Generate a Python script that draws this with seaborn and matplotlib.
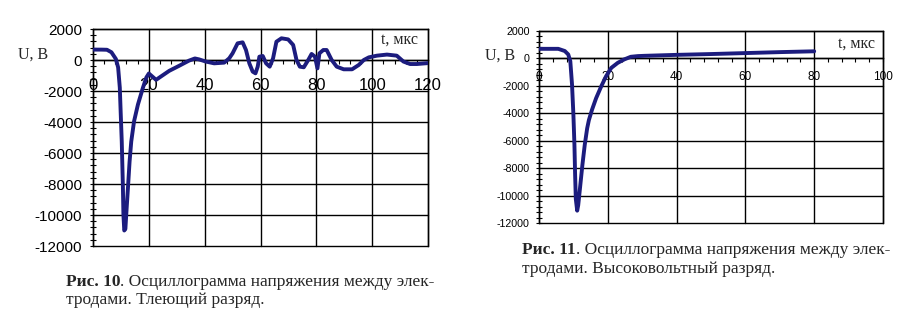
import matplotlib
matplotlib.use("Agg")
import matplotlib.pyplot as plt
import numpy as np
import pandas as pd
import seaborn as sns
from matplotlib.ticker import MultipleLocator, FixedLocator, FixedFormatter

# ---------------- data ----------------
t_glow = [0, 3, 5, 6.6, 8.2, 9.0, 9.6, 9.9, 10.3, 10.7, 10.9, 11.2, 11.6, 11.9,
          12.5, 13.1, 13.7, 14.7, 16.1, 17.9, 19.1, 20.0, 21.4, 22.6, 23.8,
          27.3, 30.9, 34.4, 36.5, 38.0, 40.4, 43.4, 47.0, 48.8, 50.0, 51.8,
          53.6, 54.8, 56.0, 57.2, 58.2, 59.0, 59.6, 60.8, 62.0, 63.3, 64.5,
          65.7, 67.5, 69.9, 71.7, 72.9, 74.1, 75.5, 77.1, 78.3, 79.5, 80.4,
          81.1, 82.5, 83.7, 85.5, 87.3, 89.8, 92.8, 95.2, 97.0, 98.8, 101.7,
          105.3, 108.8, 111.2, 113.6, 116, 120]
u_glow = [670, 670, 660, 500, 65, -480, -1780, -3300, -5260, -8100, -10000,
          -11000, -10900, -10000, -8300, -6560, -5260, -3960, -2870, -1780,
          -1130, -870, -1090, -1280, -1130, -700, -370, -40, 100, 40, -100,
          -215, -170, 110, 430, 1075, 1140, 645, -215, -750, -860, -430, 215,
          260, -215, -430, 110, 1180, 1400, 1330, 970, 0, -430, -470, 0, 390,
          215, -540, 430, 645, 645, 0, -430, -600, -600, -320, 0, 170, 280,
          350, 280, -100, -260, -260, -200]

t_hv = [0, 5.6, 7.5, 8.5, 9.1, 9.6, 10.0, 10.3, 10.5, 10.7, 11.1, 11.4, 11.9,
        12.6, 13.3, 14.0, 14.5, 15.4, 16.6, 18.1, 19.5, 21.0, 22.9, 24.8,
        26.7, 28.7, 30.6, 40, 50, 60, 70, 80]
u_hv = [700, 700, 540, 290, -200, -1900, -4100, -6300, -8500, -10250, -11100,
        -10700, -9500, -7800, -6300, -5100, -4500, -3750, -2900, -2030, -1300,
        -690, -320, -70, 120, 170, 190, 260, 320, 390, 460, 520]

x_ticks_glow = [0, 20, 40, 60, 80, 100, 120]
x_ticks_hv = [0, 20, 40, 60, 80, 100]
y_ticks = [2000, 0, -2000, -4000, -6000, -8000, -10000, -12000]

y_label = "U, B"
x_label = "t, мкс"
cap10_bold = "Рис. 10"
cap10_rest = ". Осциллограмма напряжения между элек-"
cap10_line2 = "тродами. Тлеющий разряд."
cap11_bold = "Рис. 11"
cap11_rest = ". Осциллограмма напряжения между элек-"
cap11_line2 = "тродами. Высоковольтный разряд."

# ---------------- style ----------------
sns.set_style("white")
plt.rcParams['font.family'] = ['Liberation Sans', 'DejaVu Sans']
SERIF = ['Liberation Serif', 'DejaVu Serif']
LINE_COLOR = "#1c1c7e"

W, H = 903, 329
fig = plt.figure(figsize=(W / 100, H / 100), dpi=100)
fig.patch.set_facecolor("white")


def px_axes(l, t, r, b):
    return fig.add_axes([l / W, 1 - b / H, (r - l) / W, (b - t) / H])


def style(ax, xticks, xfs, yfs, xpad, ypad):
    ax.set_xlim(xticks[0], xticks[-1])
    ax.set_ylim(y_ticks[-1], y_ticks[0])
    ax.xaxis.set_major_locator(FixedLocator(xticks))
    ax.xaxis.set_major_formatter(FixedFormatter([str(v) for v in xticks]))
    ax.yaxis.set_major_locator(FixedLocator(y_ticks))
    ax.yaxis.set_major_formatter(FixedFormatter([str(v) for v in y_ticks]))
    ax.xaxis.set_minor_locator(MultipleLocator(4))
    ax.yaxis.set_minor_locator(MultipleLocator(400))
    ax.spines['bottom'].set_position(('data', 0))
    for s in ax.spines.values():
        s.set_color('black')
        s.set_linewidth(1.0)
        s.set_visible(True)
    ax.grid(True, which='major', color='black', linewidth=1.0)
    for ln in ax.get_xgridlines() + ax.get_ygridlines():
        ln.set_clip_on(False)
    ax.set_axisbelow(True)
    ax.tick_params(axis='x', which='both', direction='out', length=3.2,
                   width=0.8, color='black', bottom=True, top=False)
    ax.tick_params(axis='x', which='major', labelsize=xfs, pad=xpad,
                   labelcolor='black')
    ax.tick_params(axis='y', which='both', direction='inout', length=4.5,
                   width=0.8, color='black', left=True, right=False)
    ax.tick_params(axis='y', which='major', labelsize=yfs, pad=ypad,
                   labelcolor='black')
    ax.set_xlabel("")
    ax.set_ylabel("")
    ax.set_facecolor("white")


df_glow = pd.DataFrame({"t": t_glow, "u": u_glow})
df_hv = pd.DataFrame({"t": t_hv, "u": u_hv})

ax1 = px_axes(93, 29, 428, 246)
sns.lineplot(data=df_glow, x="t", y="u", ax=ax1, color=LINE_COLOR,
             linewidth=2.8, sort=False, zorder=5)
style(ax1, x_ticks_glow, 12, 11, 10.0, 5.5)

ax2 = px_axes(539, 31, 883, 223)
sns.lineplot(data=df_hv, x="t", y="u", ax=ax2, color=LINE_COLOR,
             linewidth=2.8, sort=False, zorder=5)
style(ax2, x_ticks_hv, 8.5, 7.7, 5.5, 4.5)


def ftext(x, y, s, **kw):
    return fig.text(x / W, 1 - y / H, s, va='baseline', ha='left', **kw)


# axis labels
ftext(18, 58.3, y_label, family=SERIF, fontsize=11.5)
ftext(381, 43.3, x_label, family=SERIF, fontsize=11.5)
ftext(485, 59.3, y_label, family=SERIF, fontsize=11.5)
ftext(838, 47.7, x_label, family=SERIF, fontsize=11.5)

# captions
renderer = fig.canvas.get_renderer()


def caption(x, y, bold, rest, line2, fs):
    tb = ftext(x, y, bold, family=SERIF, fontsize=fs, fontweight='bold')
    bb = tb.get_window_extent(renderer)
    fig.text(bb.x1 / W, 1 - y / H, rest, va='baseline', ha='left',
             family=SERIF, fontsize=fs)
    ftext(x, y + 18.4, line2, family=SERIF, fontsize=fs)


caption(66, 286, cap10_bold, cap10_rest, cap10_line2, 12.5)
caption(522, 254.3, cap11_bold, cap11_rest, cap11_line2, 12.5)

fig.savefig("out.png", dpi=100, facecolor="white")
